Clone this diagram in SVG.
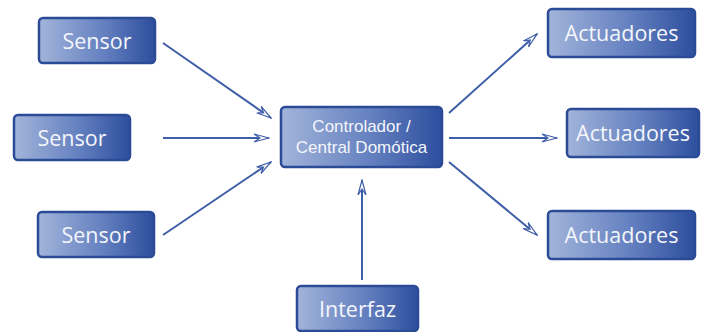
<svg xmlns="http://www.w3.org/2000/svg" width="701" height="332" viewBox="0 0 701 332">
  <defs>
    <linearGradient id="boxFill" x1="0" y1="0" x2="1" y2="0">
      <stop offset="0" stop-color="#a2b4da"/>
      <stop offset="0.55" stop-color="#6581c0"/>
      <stop offset="1" stop-color="#2d4e9e"/>
    </linearGradient>
    <marker id="arrow" viewBox="0 0 16 10" refX="15" refY="5" markerWidth="16" markerHeight="10" markerUnits="userSpaceOnUse" orient="auto">
      <path d="M0,1 L15,5 L0,9 L6,5 Z" fill="#ffffff" stroke="#3e5ea8" stroke-width="1.2" stroke-linejoin="miter"/>
    </marker>
  </defs>
  <style>
    .box { fill: url(#boxFill); stroke: #2b4b96; stroke-width: 2.5; }
    .label { fill: #f4f6fb; font-family: "Open Sans", "Liberation Sans", sans-serif; text-anchor: middle; dominant-baseline: central; }
    .big { font-size: 21.5px; }
    .small { font-family: "Liberation Sans", "Open Sans", sans-serif; font-size: 17px; }
    .conn { stroke: #3e5ea8; stroke-width: 2; fill: none; marker-end: url(#arrow); }
  </style>
  <rect width="701" height="332" fill="#ffffff"/>

  <g id="connectors">
    <line class="conn" x1="163" y1="43" x2="271" y2="118"/>
    <line class="conn" x1="163" y1="138" x2="269" y2="138"/>
    <line class="conn" x1="163" y1="235" x2="271" y2="162"/>
    <line class="conn" x1="362" y1="280" x2="362" y2="180"/>
    <line class="conn" x1="449" y1="113" x2="537" y2="34"/>
    <line class="conn" x1="449" y1="138" x2="557" y2="138"/>
    <line class="conn" x1="449" y1="162" x2="537" y2="235"/>
  </g>

  <g id="sensor1">
    <rect class="box" x="39" y="18" width="116" height="45" rx="4"/>
    <text class="label big" x="97" y="40">Sensor</text>
  </g>
  <g id="sensor2">
    <rect class="box" x="14" y="115" width="116" height="45" rx="4"/>
    <text class="label big" x="72" y="137">Sensor</text>
  </g>
  <g id="sensor3">
    <rect class="box" x="38" y="212" width="116" height="45" rx="4"/>
    <text class="label big" x="96" y="234">Sensor</text>
  </g>

  <g id="controlador">
    <rect class="box" x="281" y="107" width="161" height="60" rx="4"/>
    <text class="label small" x="361.5" y="126.5">Controlador /<tspan x="361.5" dy="20">Central Domótica</tspan></text>
  </g>

  <g id="actuadores1">
    <rect class="box" x="548" y="9" width="147" height="48" rx="4"/>
    <text class="label big" x="621.5" y="32">Actuadores</text>
  </g>
  <g id="actuadores2">
    <rect class="box" x="567" y="109" width="132" height="48" rx="4"/>
    <text class="label big" x="633" y="132">Actuadores</text>
  </g>
  <g id="actuadores3">
    <rect class="box" x="548" y="211" width="147" height="48" rx="4"/>
    <text class="label big" x="621.5" y="234">Actuadores</text>
  </g>

  <g id="interfaz">
    <rect class="box" x="297" y="286" width="121" height="45" rx="4"/>
    <text class="label big" x="357.5" y="308.5">Interfaz</text>
  </g>
</svg>
